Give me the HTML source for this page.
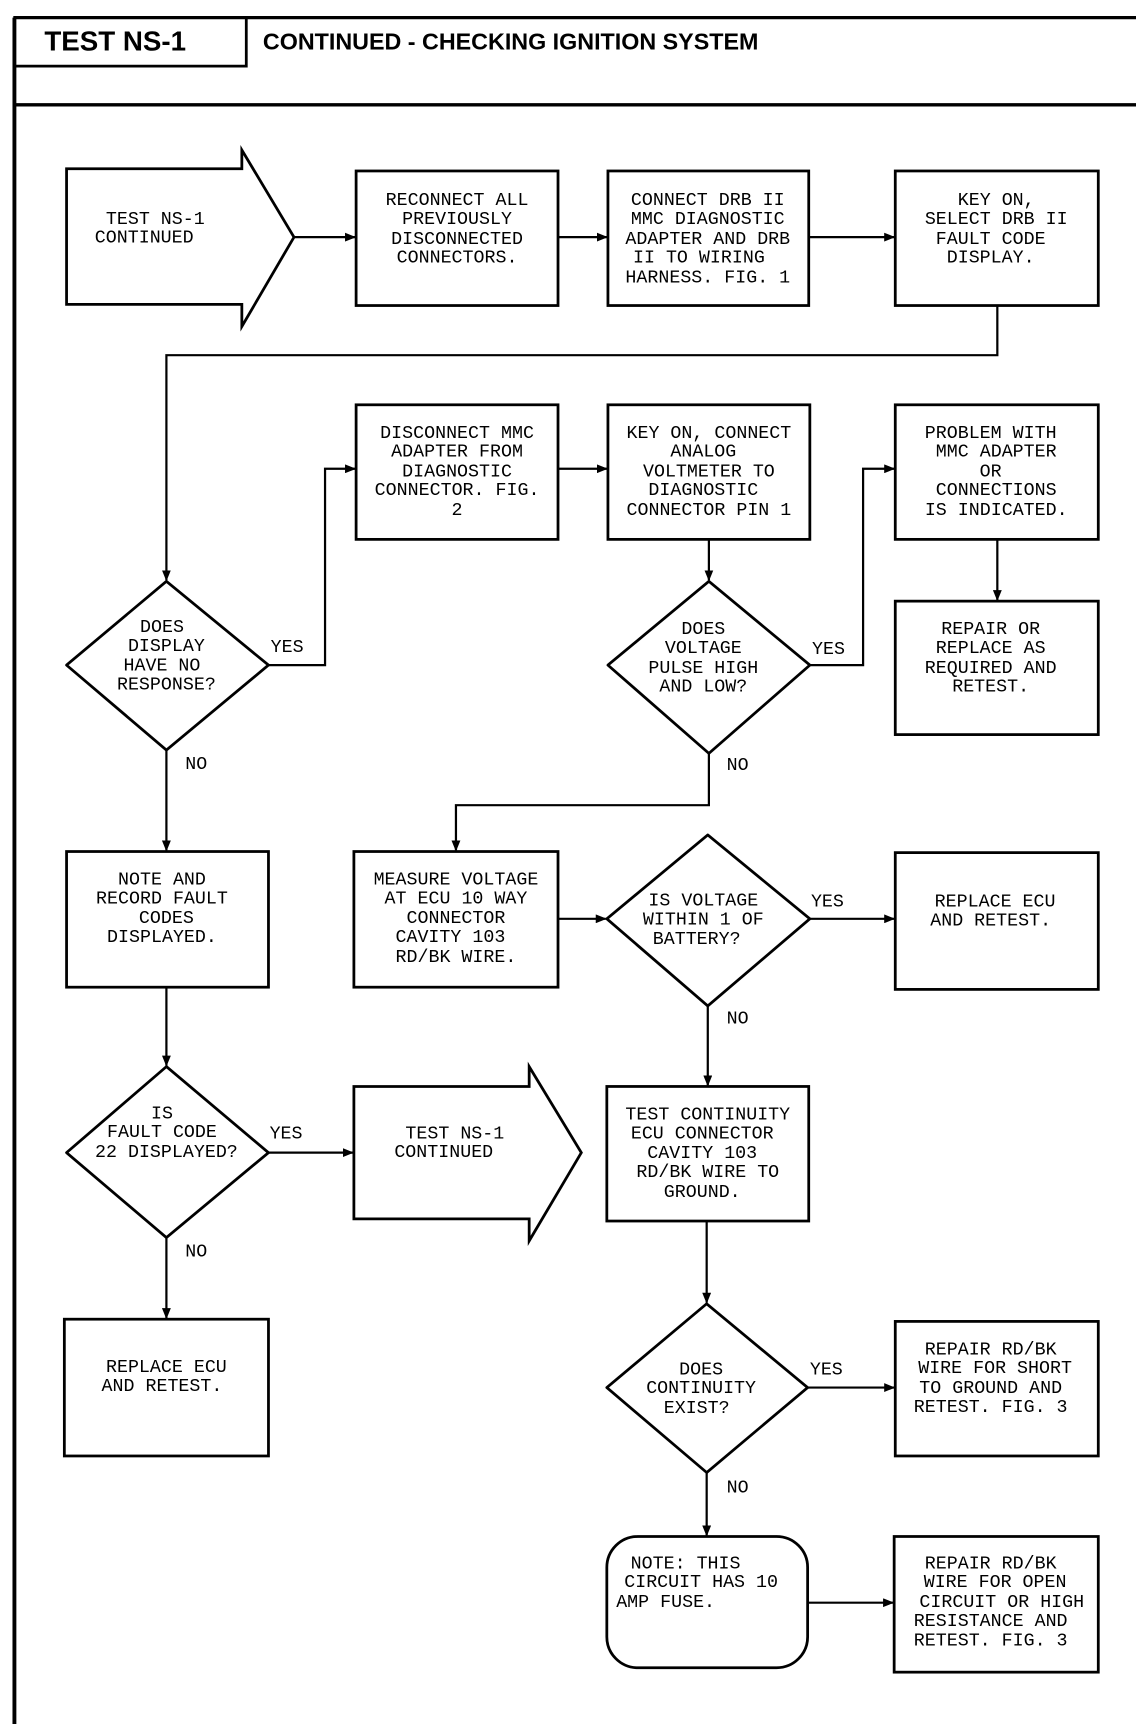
<!DOCTYPE html>
<html><head><meta charset="utf-8"><style>
html,body{margin:0;padding:0;background:#fff;}
svg{display:block;}
text{font-family:"Liberation Mono",monospace;font-size:16.5px;fill:#000;}
.b{font-family:"Liberation Sans",sans-serif;font-weight:bold;}
</style></head><body>
<svg width="1136" height="1724" viewBox="0 0 1024 1563" preserveAspectRatio="none" xmlns="http://www.w3.org/2000/svg">
<defs><marker id="a" markerWidth="10" markerHeight="8" refX="9" refY="4" orient="auto" markerUnits="userSpaceOnUse"><path d="M0,0 L10,4 L0,8 Z" fill="#000"/></marker></defs>
<g fill="none" stroke="#000" stroke-width="2.5">
<line x1="12" y1="16" x2="1024" y2="16" stroke-width="3"/>
<line x1="13" y1="16" x2="13" y2="1563" stroke-width="3.5"/>
<line x1="12" y1="95" x2="1024" y2="95" stroke-width="3"/>
<path d="M13,60 H222 V16"/>
</g>
<text class="b" x="40" y="46" style="font-size:25px">TEST NS-1</text>
<text class="b" x="237" y="45" style="font-size:21px">CONTINUED - CHECKING IGNITION SYSTEM</text>
<g fill="#fff" stroke="#000" stroke-width="2.5">
<path d="M60,153 H218 V136 L265,215 L218,296 V276 H60 Z"/>
<rect x="321" y="155" width="182" height="122"/>
<rect x="548" y="155" width="181" height="122"/>
<rect x="807" y="155" width="183" height="122"/>
<rect x="321" y="367" width="182" height="122"/>
<rect x="548" y="367" width="182" height="122"/>
<rect x="807" y="367" width="183" height="122"/>
<rect x="807" y="545" width="183" height="121"/>
<path d="M150,527 L242,603 L150,680 L60,603 Z" stroke-linejoin="round"/>
<path d="M639,527 L730,603 L639,683 L548,603 Z" stroke-linejoin="round"/>
<rect x="60" y="772" width="182" height="123"/>
<rect x="319" y="772" width="184" height="123"/>
<path d="M638,757 L730,833 L638,912 L547,833 Z" stroke-linejoin="round"/>
<rect x="807" y="773" width="183" height="124"/>
<rect x="547" y="985" width="182" height="122"/>
<path d="M150,967 L242,1045 L150,1122 L60,1045 Z" stroke-linejoin="round"/>
<path d="M319,985 H477 V967 L524,1045 L477,1125 V1105 H319 Z"/>
<rect x="58" y="1196" width="184" height="124"/>
<path d="M637,1182 L728,1258 L637,1335 L547,1258 Z" stroke-linejoin="round"/>
<rect x="807" y="1198" width="183" height="122"/>
<rect x="547" y="1393" width="181" height="119" rx="28"/>
<rect x="806" y="1393" width="184" height="123"/>
</g>
<g fill="none" stroke="#000" stroke-width="2" marker-end="url(#a)">
<line x1="265" y1="215" x2="320" y2="215"/>
<line x1="503" y1="215" x2="547" y2="215"/>
<line x1="729" y1="215" x2="806" y2="215"/>
<path d="M899,277 V322 H150 V526"/>
<path d="M242,603 H293 V425 H320"/>
<line x1="503" y1="425" x2="547" y2="425"/>
<line x1="639" y1="489" x2="639" y2="526"/>
<path d="M730,603 H778 V425 H806"/>
<line x1="899" y1="489" x2="899" y2="544"/>
<line x1="150" y1="680" x2="150" y2="771"/>
<path d="M639,683 V730 H411 V771"/>
<line x1="503" y1="833" x2="546" y2="833"/>
<line x1="730" y1="833" x2="806" y2="833"/>
<line x1="638" y1="912" x2="638" y2="984"/>
<line x1="150" y1="895" x2="150" y2="966"/>
<line x1="242" y1="1045" x2="318" y2="1045"/>
<line x1="150" y1="1122" x2="150" y2="1195"/>
<line x1="637" y1="1107" x2="637" y2="1181"/>
<line x1="728" y1="1258" x2="806" y2="1258"/>
<line x1="637" y1="1335" x2="637" y2="1392"/>
<line x1="728" y1="1453" x2="805" y2="1453"/>
</g>
<g text-anchor="middle">
<text x="140" y="203">TEST NS-1</text><text x="130" y="220">CONTINUED</text>
<text x="412" y="186">RECONNECT ALL</text><text x="412" y="203">PREVIOUSLY</text><text x="412" y="221">DISCONNECTED</text><text x="412" y="238">CONNECTORS.</text>
<text x="638" y="186">CONNECT DRB II</text><text x="638" y="203">MMC DIAGNOSTIC</text><text x="638" y="221">ADAPTER AND DRB</text><text x="630" y="238">II TO WIRING</text><text x="638" y="256">HARNESS. FIG. 1</text>
<text x="898" y="186">KEY ON,</text><text x="898" y="203">SELECT DRB II</text><text x="893" y="221">FAULT CODE</text><text x="893" y="238">DISPLAY.</text>
<text x="412" y="397">DISCONNECT MMC</text><text x="412" y="414">ADAPTER FROM</text><text x="412" y="432">DIAGNOSTIC</text><text x="412" y="449">CONNECTOR. FIG.</text><text x="412" y="467">2</text>
<text x="639" y="397">KEY ON, CONNECT</text><text x="634" y="414">ANALOG</text><text x="639" y="432">VOLTMETER TO</text><text x="634" y="449">DIAGNOSTIC</text><text x="639" y="467">CONNECTOR PIN 1</text>
<text x="893" y="397">PROBLEM WITH</text><text x="898" y="414">MMC ADAPTER</text><text x="893" y="432">OR</text><text x="898" y="449">CONNECTIONS</text><text x="898" y="467">IS INDICATED.</text>
<text x="893" y="575">REPAIR OR</text><text x="893" y="592">REPLACE AS</text><text x="893" y="610">REQUIRED AND</text><text x="893" y="627">RETEST.</text>
<text x="146" y="573">DOES</text><text x="150" y="590">DISPLAY</text><text x="146" y="608">HAVE NO</text><text x="150" y="625">RESPONSE?</text>
<text x="634" y="575">DOES</text><text x="634" y="592">VOLTAGE</text><text x="634" y="610">PULSE HIGH</text><text x="634" y="627">AND LOW?</text>
<text x="146" y="802">NOTE AND</text><text x="146" y="819">RECORD FAULT</text><text x="150" y="837">CODES</text><text x="146" y="854">DISPLAYED.</text>
<text x="411" y="802">MEASURE VOLTAGE</text><text x="411" y="819">AT ECU 10 WAY</text><text x="411" y="837">CONNECTOR</text><text x="406" y="854">CAVITY 103</text><text x="411" y="872">RD/BK WIRE.</text>
<text x="634" y="821">IS VOLTAGE</text><text x="634" y="838">WITHIN 1 OF</text><text x="628" y="856">BATTERY?</text>
<text x="897" y="822">REPLACE ECU</text><text x="893" y="839">AND RETEST.</text>
<text x="638" y="1015">TEST CONTINUITY</text><text x="633" y="1032">ECU CONNECTOR</text><text x="633" y="1050">CAVITY 103</text><text x="638" y="1067">RD/BK WIRE TO</text><text x="633" y="1085">GROUND.</text>
<text x="146" y="1014">IS</text><text x="146" y="1031">FAULT CODE</text><text x="150" y="1049">22 DISPLAYED?</text>
<text x="410" y="1032">TEST NS-1</text><text x="400" y="1049">CONTINUED</text>
<text x="150" y="1244">REPLACE ECU</text><text x="146" y="1261">AND RETEST.</text>
<text x="632" y="1246">DOES</text><text x="632" y="1263">CONTINUITY</text><text x="628" y="1281">EXIST?</text>
<text x="893" y="1228">REPAIR RD/BK</text><text x="897" y="1245">WIRE FOR SHORT</text><text x="893" y="1263">TO GROUND AND</text><text x="893" y="1280">RETEST. FIG. 3</text>
<text x="618" y="1422">NOTE: THIS</text><text x="632" y="1439">CIRCUIT HAS 10</text><text x="600" y="1457">AMP FUSE.</text>
<text x="893" y="1422">REPAIR RD/BK</text><text x="897" y="1439">WIRE FOR OPEN</text><text x="903" y="1457">CIRCUIT OR HIGH</text><text x="893" y="1474">RESISTANCE AND</text><text x="893" y="1492">RETEST. FIG. 3</text>
</g>
<text x="244" y="591">YES</text><text x="167" y="697">NO</text>
<text x="732" y="593">YES</text><text x="655" y="698">NO</text>
<text x="731" y="822">YES</text><text x="655" y="928">NO</text>
<text x="243" y="1032">YES</text><text x="167" y="1139">NO</text>
<text x="730" y="1246">YES</text><text x="655" y="1353">NO</text>
</svg>
</body></html>
